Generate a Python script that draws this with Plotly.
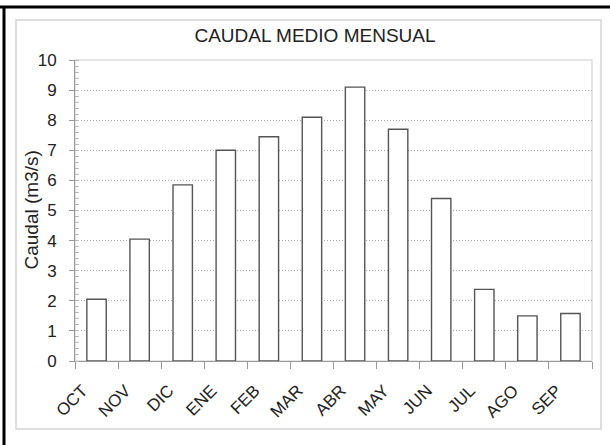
import plotly.graph_objects as go

# ── Data ───────────────────────────────────────────────────────────────────────

meses = ["OCT", "NOV", "DIC", "ENE", "FEB", "MAR", "ABR", "MAY", "JUN", "JUL", "AGO", "SEP"]
caudal = [2.05, 4.05, 5.85, 7.0, 7.45, 8.1, 9.1, 7.7, 5.4, 2.38, 1.5, 1.58]

titulo = "CAUDAL MEDIO MENSUAL"
eje_y = "Caudal (m3/s)"

# ── Chart ──────────────────────────────────────────────────────────────────────

fig = go.Figure()
fig.add_trace(go.Bar(
    x=meses, y=caudal,
    marker=dict(color="white", line=dict(color="#555555", width=1.4)),
    width=0.45,
))

# plot area: x 75..592, y 60..361 (px)
L, R, T, B = 75, 592, 60, 361


def px_x(p):
    return (p - L) / (R - L)


def px_y(p):
    return (B - p) / (B - T)


shapes = [
    # outer gray frame
    dict(type="rect", xref="paper", yref="paper",
         x0=px_x(16), x1=px_x(601), y0=px_y(429), y1=px_y(20),
         line=dict(color="#d4d4d4", width=1.5), layer="below"),
    # plot area border
    dict(type="rect", xref="paper", yref="paper",
         x0=0, x1=1, y0=0, y1=1,
         line=dict(color="#dddddd", width=1.5), layer="below"),
    # black page lines (top and left)
    dict(type="line", xref="paper", yref="paper",
         x0=px_x(0), x1=px_x(610), y0=px_y(7), y1=px_y(7),
         line=dict(color="black", width=3)),
    dict(type="line", xref="paper", yref="paper",
         x0=px_x(4), x1=px_x(4), y0=px_y(6), y1=px_y(445),
         line=dict(color="black", width=3)),
]

fig.update_layout(
    width=610, height=445,
    margin=dict(l=L, r=610 - R, t=T, b=445 - B),
    paper_bgcolor="white",
    plot_bgcolor="white",
    font=dict(family="Liberation Sans, Arial", color="#222222", size=17),
    title=dict(text=titulo, x=315 / 610, xref="container", xanchor="center",
               y=1 - 35 / 445, yanchor="middle", yref="container",
               font=dict(size=19, color="#222222")),
    showlegend=False,
    shapes=shapes,
    annotations=[dict(text=eje_y, textangle=-90, showarrow=False,
                      xref="paper", yref="paper", x=px_x(31), y=0.5,
                      xanchor="center", yanchor="middle",
                      font=dict(size=19, color="#222222"))],
)

fig.update_xaxes(
    showline=True, linecolor="#999999", linewidth=1,
    ticks="outside", tickson="boundaries", ticklen=7, tickcolor="#999999",
    tickangle=-45, tickfont=dict(size=17),
    ticklabelstandoff=12, ticklabelshift=-14,
    showgrid=False, automargin=False,
)
fig.update_yaxes(
    range=[0, 10], dtick=1,
    showline=True, linecolor="#999999", linewidth=1,
    ticks="outside", ticklen=5, tickcolor="#999999",
    minor=dict(dtick=0.2, ticks="inside", ticklen=4, tickcolor="#bbbbbb"),
    showgrid=True, gridcolor="#aaaaaa", griddash="1px,2px", gridwidth=1,
    tickfont=dict(size=17), ticklabelstandoff=9,
    zeroline=False, automargin=False,
)

fig.write_html("out.html", config={"displayModeBar": False},
               post_script="document.body.style.margin = '0';")
